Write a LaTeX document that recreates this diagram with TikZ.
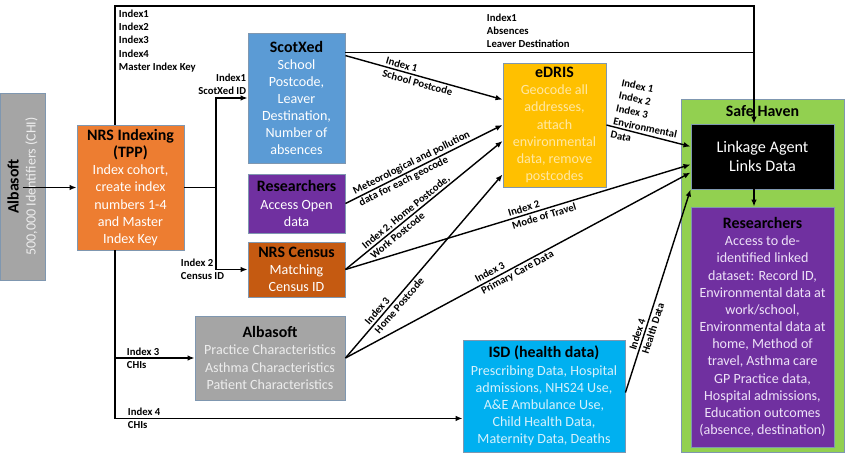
\documentclass[tikz,border=0pt]{standalone}
\usepackage{fontspec}
\setmainfont{Carlito}
\usetikzlibrary{arrows.meta, calc}

\definecolor{albagrey}{HTML}{A5A5A5}
\definecolor{nrsorange}{HTML}{ED7D31}
\definecolor{scotblue}{HTML}{5B9BD5}
\definecolor{respurple}{HTML}{7030A0}
\definecolor{censusbrown}{HTML}{C55A11}
\definecolor{edrisgold}{HTML}{FFC000}
\definecolor{isdblue}{HTML}{00B0F0}
\definecolor{havengreen}{HTML}{92D050}
\definecolor{boxline}{HTML}{7F97B0}
\definecolor{greytext}{HTML}{EDEDED}
\definecolor{goldtext}{HTML}{FFE8A3}
\definecolor{isdtext}{HTML}{D5F1FC}
\definecolor{purpletext}{HTML}{EEE2F8}

\newcommand{\boxtitle}[1]{\textcolor{black}{\fontsize{11.3}{13.6}\selectfont\bfseries #1}}

\begin{document}
\begin{tikzpicture}[x=0.025cm, y=-0.025cm]
\tikzstyle{box}=[draw=boxline, line width=0.6pt, align=center, inner sep=1pt, text=white, font=\fontsize{10}{12.2}\selectfont]
\tikzstyle{lbl}=[font=\bfseries\fontsize{7.6}{9.4}\selectfont, inner sep=0.5pt, align=left]
\tikzstyle{flow}=[draw, line width=1pt, -{Latex[length=5pt,width=4pt]}]
\tikzstyle{wire}=[draw, line width=1pt]

\useasboundingbox (0,0) rectangle (863,454);

% sources
\node[box, fill=albagrey, text=greytext, rotate=90, minimum width=4.675cm, minimum height=1.125cm] (alba1) at (22.5,186.5) {\boxtitle{Albasoft}\\500,000 Identifiers (CHI)};
\node[box, fill=nrsorange, minimum width=2.675cm, minimum height=3.125cm] (nrs) at (130.5,187.5) {\boxtitle{NRS Indexing}\\\boxtitle{(TPP)}\\Index cohort,\\create index\\numbers 1-4\\and Master\\Index Key};
\node[box, fill=scotblue, minimum width=2.425cm, minimum height=3.25cm] (scot) at (296.5,98) {\boxtitle{ScotXed}\\School\\Postcode,\\Leaver\\Destination,\\Number of\\absences};
\node[box, fill=respurple, minimum width=2.425cm, minimum height=1.475cm] (res1) at (296.5,203.5) {\boxtitle{Researchers}\\Access Open\\data};
\node[box, fill=censusbrown, minimum width=2.425cm, minimum height=1.375cm] (census) at (296.5,269.5) {\boxtitle{NRS Census}\\Matching\\Census ID};
\node[box, fill=albagrey, text=greytext, minimum width=3.75cm, minimum height=2.1cm] (alba2) at (270,358) {\boxtitle{Albasoft}\\Practice Characteristics\\Asthma Characteristics\\Patient Characteristics};
\node[box, fill=edrisgold, text=goldtext, minimum width=2.575cm, minimum height=3.1cm] (edris) at (554.5,125) {\boxtitle{eDRIS}\\Geocode all\\addresses,\\attach\\environmental\\data, remove\\postcodes};
\node[box, fill=isdblue, text=isdtext, minimum width=4.05cm, minimum height=2.8cm] (isd) at (544,396) {\boxtitle{ISD (health data)}\\Prescribing Data, Hospital\\admissions, NHS24 Use,\\A\&E Ambulance Use,\\Child Health Data,\\Maternity Data, Deaths};

% safe haven
\node[box, fill=havengreen, minimum width=4.075cm, minimum height=8.825cm] (haven) at (762.5,275.5) {};
\node[inner sep=0pt] (haventitle) at (762.5,111) {\boxtitle{Safe Haven}};
\node[box, fill=black, font=\fontsize{11.5}{14}\selectfont, minimum width=3.575cm, minimum height=1.625cm] (link) at (762.5,156.5) {Linkage Agent\\Links Data};
\node[box, fill=respurple, text=purpletext, minimum width=3.575cm, minimum height=6cm] (res2) at (762.5,327) {\boxtitle{Researchers}\\Access to de-\\identified linked\\dataset: Record ID,\\Environmental data at\\work/school,\\Environmental data at\\home, Method of\\travel, Asthma care\\GP Practice data,\\Hospital admissions,\\Education outcomes\\(absence, destination)};

% ports
\coordinate (spine) at (115,6);
\coordinate (drop) at (754,6);
\coordinate (fork) at (216,0);
\coordinate (sx) at ($(scot.north east)+(0,20)$);
\coordinate (sc1) at ($(scot.north east)+(0,23)$);
\coordinate (ed1) at ($(edris.north west)+(0,37)$);
\coordinate (ed2) at (edris.west);
\coordinate (ed3) at ($(edris.west)+(0,16)$);
\coordinate (ed4) at ($(edris.south west)+(0,-13)$);
\coordinate (lk1) at ($(link.west)+(0,-10)$);
\coordinate (lk2) at ($(link.west)+(0,8)$);
\coordinate (lk3) at ($(link.west)+(0,16)$);
\coordinate (is1) at ($(isd.north east)+(0,53)$);
\coordinate (isdin) at ($(isd.south west)+(0,-34)$);

% index routes
\draw[flow] (alba1.east |- nrs.west) -- (nrs.west);
\draw[flow, line width=1.2pt] (spine |- nrs.north) -- (spine) -- (drop) -- (drop |- link.north);
\draw[wire] (sx) -- (sx -| drop);
\draw[wire] (nrs.east) -- (nrs.east -| fork);
\draw[flow] (nrs.east -| fork) |- (scot.west);
\draw[flow] (nrs.east -| fork) |- (census.west);
\draw[flow] (spine |- nrs.south) |- (isdin);
\draw[flow] (spine |- alba2.west) -- (alba2.west);
\draw[flow] (link.south -| drop) -- (res2.north -| drop);

\node[lbl, anchor=north west] (keylbl) at (118,9) {Index1\\Index2\\Index3\\Index4\\Master Index Key};
\node[lbl, anchor=south east, align=right] (scotlbl) at (247,96) {Index1\\ScotXed ID};
\node[lbl, anchor=west] (censuslbl) at (180,269) {Index 2\\Census ID};
\node[lbl, anchor=west] (chi3lbl) at (126,358) {Index 3\\CHIs};
\node[lbl, anchor=west] (chi4lbl) at (127,418) {Index 4\\CHIs};
\node[lbl, anchor=west] (absencelbl) at (486,31) {Index1\\Absences\\Leaver Destination};

% data flows
\path
(sc1) edge[flow] node[lbl, sloped, pos=0.47] {Index 1\\School Postcode} (ed1)
(res1.east) edge[flow] node[lbl, sloped, pos=0.44] {Meteorological and pollution\\data for each geocode} (ed2)
(census.east) edge[flow] node[lbl, sloped, pos=0.41] {Index 2, Home Postcode,\\Work Postcode} (ed3)
(census.east) edge[flow] node[lbl, sloped, pos=0.57] {Index 2\\Mode of Travel} (lk2)
(alba2.east) edge[flow] node[lbl, sloped, pos=0.31] {Index 3\\Home Postcode} (ed4)
(alba2.east) edge[flow] node[lbl, sloped, pos=0.49] {Index 3\\Primary Care Data} (lk3)
(edris.east) edge[flow] (lk1)
(is1) edge[flow] node[lbl, sloped, pos=0.325] {Index 4\\Health Data} (link.south west);

\node[lbl, rotate=-12] (envlbl) at (648,115) {Index 1\\Index 2\\Index 3\\Environmental\\Data};

\end{tikzpicture}
\end{document}
